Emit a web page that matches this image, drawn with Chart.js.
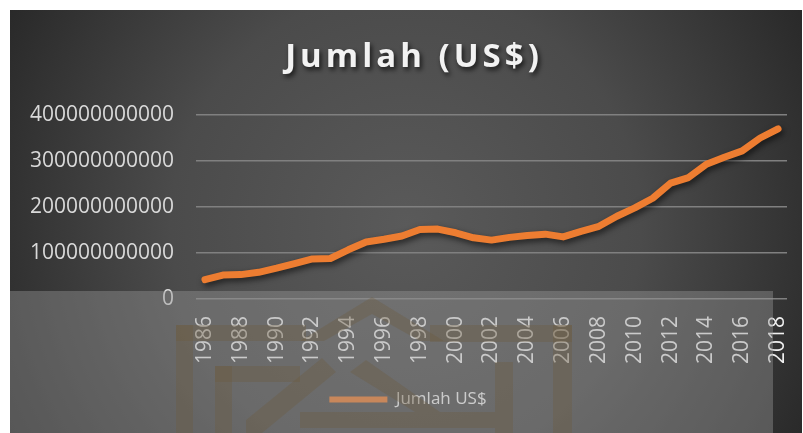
<!DOCTYPE html>
<html>
<head>
<meta charset="utf-8">
<script src="https://cdn.jsdelivr.net/npm/chart.js@4/dist/chart.umd.min.js"></script>
<style>
  html, body { margin: 0; padding: 0; background: #fff; }
  #wrap { width: 803px; height: 433px; }
</style>
</head>
<body>
<div id="wrap"><canvas id="chart" width="803" height="433"></canvas></div>
<script>
const years = ['1986','1987','1988','1989','1990','1991','1992','1993','1994','1995','1996',
  '1997','1998','1999','2000','2001','2002','2003','2004','2005','2006','2007','2008',
  '2009','2010','2011','2012','2013','2014','2015','2016','2017','2018'];
// values in billions of US$
const jumlahBillions = [42, 52, 53, 58, 67, 77, 87, 88, 107, 124, 130, 137, 151, 152, 144,
  133, 128, 134, 138, 141, 135, 147, 158, 180, 198, 219, 252, 264, 293, 308, 322, 350, 370];
const jumlah = jumlahBillions.map(v => v * 1e9);
const yTicks = [0, 100000000000, 200000000000, 300000000000, 400000000000];
const titleText = 'Jumlah (US$)';
const seriesName = 'Jumlah US$';

const orange = '#ED7D31';

// dark gradient panel behind everything
const panelBg = {
  id: 'panelBg',
  beforeDraw(chart) {
    const ctx = chart.ctx;
    ctx.save();
    ctx.fillStyle = '#ffffff';
    ctx.fillRect(0, 0, chart.width, chart.height);
    const g = ctx.createRadialGradient(406, 225, 0, 406, 225, 470);
    g.addColorStop(0, '#5a5a5a');
    g.addColorStop(0.5, '#4b4b4b');
    g.addColorStop(1, '#262626');
    ctx.fillStyle = g;
    ctx.fillRect(10, 10, 792, 423);
    // title with letter spacing and shadow
    ctx.font = 'bold 33px "Open Sans", sans-serif';
    ctx.letterSpacing = '4px';
    ctx.textAlign = 'center';
    ctx.textBaseline = 'middle';
    ctx.shadowColor = 'rgba(0,0,0,0.7)';
    ctx.shadowBlur = 5;
    ctx.shadowOffsetX = 2;
    ctx.shadowOffsetY = 3;
    ctx.fillStyle = '#f2f2f2';
    ctx.fillText(titleText, 414, 58);
    ctx.restore();
  }
};

// drop shadow under the line
const lineShadow = {
  id: 'lineShadow',
  beforeDatasetsDraw(chart) {
    const ctx = chart.ctx;
    ctx.save();
    ctx.shadowColor = 'rgba(0,0,0,0.6)';
    ctx.shadowBlur = 6;
    ctx.shadowOffsetX = 2;
    ctx.shadowOffsetY = 3;
  },
  afterDatasetsDraw(chart) {
    chart.ctx.restore();
  }
};

// the greyish scanned overlay with its faint logo
const overlay = {
  id: 'overlay',
  afterDraw(chart) {
    const ctx = chart.ctx;
    ctx.save();
    ctx.fillStyle = 'rgba(150,150,150,0.42)';
    ctx.fillRect(10, 291, 763, 142);
    ctx.fillStyle = 'rgba(110,90,60,0.33)';
    ctx.fillRect(176, 325, 17, 108);
    ctx.fillRect(176, 325, 130, 16);
    ctx.fillRect(430, 325, 142, 17);
    ctx.fillRect(553, 325, 19, 108);
    ctx.fillRect(215, 366, 17, 67);
    ctx.fillRect(215, 366, 85, 16);
    ctx.fillRect(495, 362, 18, 71);
    ctx.fillRect(300, 412, 195, 16);
    ctx.beginPath();
    ctx.moveTo(300, 341); ctx.lineTo(372, 297); ctx.lineTo(444, 341);
    ctx.lineTo(420, 341); ctx.lineTo(372, 314); ctx.lineTo(324, 341);
    ctx.closePath(); ctx.fill();
    ctx.beginPath();
    ctx.moveTo(246, 420); ctx.lineTo(322, 358); ctx.lineTo(336, 372);
    ctx.lineTo(262, 433); ctx.lineTo(246, 433);
    ctx.closePath(); ctx.fill();
    ctx.beginPath();
    ctx.moveTo(350, 372); ctx.lineTo(366, 360); ctx.lineTo(440, 412);
    ctx.lineTo(415, 412);
    ctx.closePath(); ctx.fill();
    ctx.restore();
  }
};

new Chart(document.getElementById('chart'), {
  type: 'line',
  data: {
    labels: years,
    datasets: [{
      label: seriesName,
      data: jumlah,
      borderColor: orange,
      backgroundColor: orange,
      borderWidth: 7,
      borderCapStyle: 'round',
      borderJoinStyle: 'round',
      pointRadius: 0,
      tension: 0
    }]
  },
  options: {
    responsive: false,
    animation: false,
    layout: { padding: { left: 29, right: 16, top: 115, bottom: 15 } },
    plugins: {
      title: { display: false },
      tooltip: { enabled: false },
      legend: {
        display: true,
        position: 'bottom',
        labels: {
          color: '#f2f2f2',
          boxWidth: 58,
          boxHeight: 6,
          useBorderRadius: true,
          borderRadius: 3,
          font: { family: '"Open Sans", sans-serif', size: 17 },
          generateLabels(chart) {
            return chart.data.datasets.map((ds, i) => ({
              text: ds.label,
              fillStyle: ds.borderColor,
              strokeStyle: ds.borderColor,
              lineWidth: 0,
              fontColor: '#f2f2f2',
              datasetIndex: i
            }));
          }
        }
      }
    },
    scales: {
      x: {
        offset: true,
        grid: { display: false, drawTicks: false },
        border: { display: false },
        ticks: {
          autoSkip: false,
          maxRotation: 90,
          minRotation: 90,
          padding: 17,
          color: '#f0f0f0',
          font: { family: '"Open Sans", sans-serif', size: 21 },
          callback(value, index) {
            return index % 2 === 0 ? this.getLabelForValue(value) : '';
          }
        },
        afterFit(scale) {
          scale.height = 82;
          scale.paddingLeft = 0;
          scale.paddingRight = 0;
        }
      },
      y: {
        min: 0,
        max: 400000000000,
        grid: { color: '#808080', lineWidth: 1.5, drawTicks: false },
        border: { display: false },
        afterBuildTicks(scale) { scale.ticks = yTicks.map(v => ({ value: v })); },
        ticks: {
          padding: 22,
          color: '#d9d9d9',
          font: { family: '"Open Sans", sans-serif', size: 21 },
          callback(value) { return String(value); }
        },
        afterFit(scale) { scale.width = 167; }
      }
    }
  },
  plugins: [panelBg, lineShadow, overlay]
});
</script>
</body>
</html>
